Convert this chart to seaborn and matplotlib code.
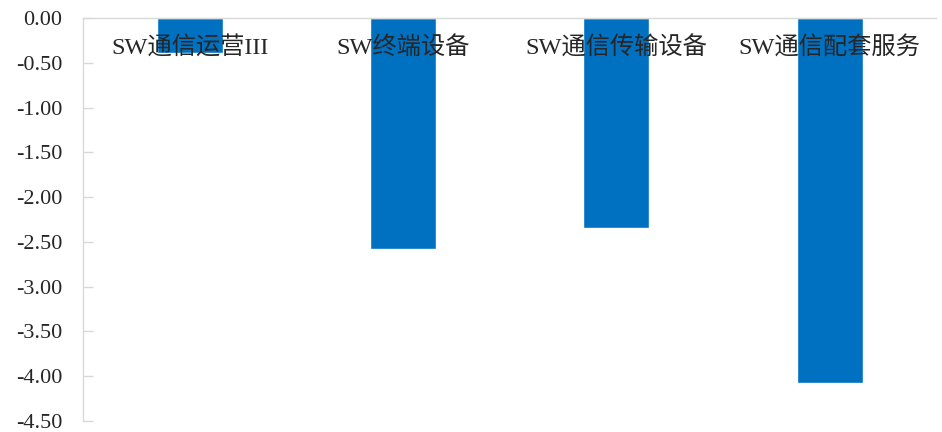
import matplotlib
matplotlib.use("Agg")
import matplotlib.pyplot as plt
import seaborn as sns
import pandas as pd

categories = ["SW通信运营III", "SW终端设备", "SW通信传输设备", "SW通信配套服务"]
values = [-0.39, -2.58, -2.35, -4.08]
yticks = [0.0, -0.5, -1.0, -1.5, -2.0, -2.5, -3.0, -3.5, -4.0, -4.5]

sns.set_theme(style="white")
plt.rcParams['font.family'] = ['Liberation Serif', 'Noto Sans CJK SC']

df = pd.DataFrame({"cat": categories, "val": values})

fig = plt.figure(figsize=(9.42, 4.32), dpi=100)
ax = fig.add_axes([0.088, 0.026, 0.906, 0.932])
sns.barplot(data=df, x="cat", y="val", color="#0070C0", saturation=1, width=0.31, ax=ax)

ax.set_xlim(-0.5, 3.5)
ax.set_ylim(-4.5, 0)
ax.set_yticks(yticks)
ax.set_yticklabels([f"{v:.2f}" for v in yticks], fontsize=16)
ax.set_xlabel("")
ax.set_ylabel("")

for s in ["right", "top"]:
    ax.spines[s].set_visible(False)
ax.spines["bottom"].set_position(("data", 0))
ax.spines["bottom"].set_color("#d9d9d9")
ax.spines["left"].set_color("#d9d9d9")
ax.spines["bottom"].set_linewidth(1.0)
ax.spines["left"].set_linewidth(1.0)

ax.tick_params(axis="x", length=0, pad=13, labelsize=17.5)
ax.tick_params(axis="y", left=True, direction="in", length=7, width=1, color="#d9d9d9", pad=15)
ax.yaxis.set_zorder(5)
ax.xaxis.set_zorder(5)

fig.savefig("out.png", dpi=100)
